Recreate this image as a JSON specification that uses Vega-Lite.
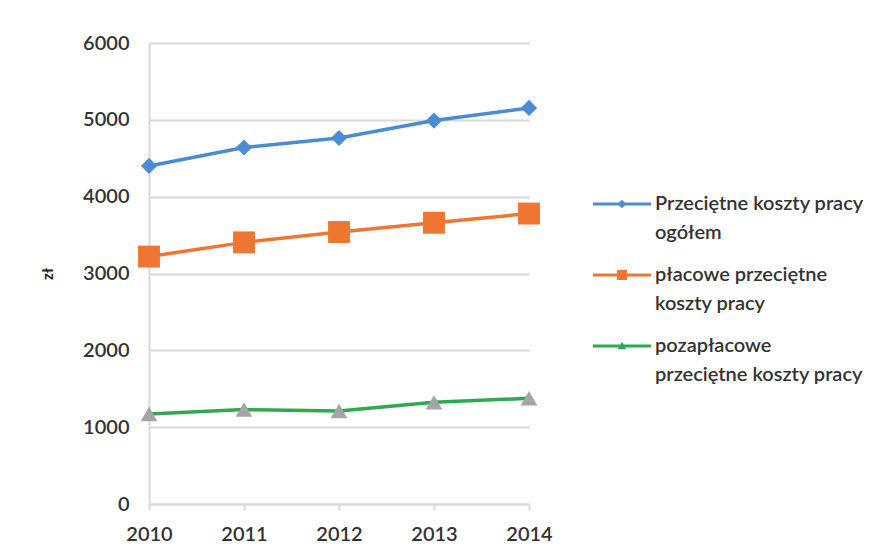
{
  "$schema": "https://vega.github.io/schema/vega-lite/v6.json",
  "width": 380,
  "height": 461,
  "autosize": {"type": "none"},
  "padding": {"left": 149, "top": 43, "right": 359, "bottom": 54},
  "background": "white",
  "config": {
    "font": "Lato",
    "view": {"stroke": null},
    "style": {"guide-label": {"lineHeight": 29}},
    "axis": {
      "labelFont": "Lato",
      "labelFontSize": 20,
      "labelFontWeight": 600,
      "labelColor": "#333333",
      "gridColor": "#d9d9d9",
      "gridWidth": 2,
      "domainColor": "#d9d9d9",
      "domainWidth": 2,
      "tickColor": "#d9d9d9",
      "tickWidth": 2
    }
  },
  "data": {
    "values": [
      {"year": "2010", "series": "A", "value": 4400},
      {"year": "2011", "series": "A", "value": 4640},
      {"year": "2012", "series": "A", "value": 4764},
      {"year": "2013", "series": "A", "value": 4990},
      {"year": "2014", "series": "A", "value": 5155},
      {"year": "2010", "series": "B", "value": 3220},
      {"year": "2011", "series": "B", "value": 3405},
      {"year": "2012", "series": "B", "value": 3540},
      {"year": "2013", "series": "B", "value": 3660},
      {"year": "2014", "series": "B", "value": 3780},
      {"year": "2010", "series": "C", "value": 1170},
      {"year": "2011", "series": "C", "value": 1230},
      {"year": "2012", "series": "C", "value": 1210},
      {"year": "2013", "series": "C", "value": 1325},
      {"year": "2014", "series": "C", "value": 1375}
    ]
  },
  "encoding": {
    "x": {
      "field": "year",
      "type": "ordinal",
      "scale": {"type": "point", "padding": 0},
      "axis": {"title": null, "labelAngle": 0, "grid": false, "tickSize": 6, "labelPadding": 14}
    },
    "y": {
      "field": "value",
      "type": "quantitative",
      "scale": {"domain": [0, 6000], "nice": false},
      "axis": {
        "title": "zł",
        "titleFont": "Lato",
        "titleFontSize": 15,
        "titleFontWeight": "bold",
        "titleColor": "#222222",
        "titlePadding": 27,
        "format": "d",
        "values": [0, 1000, 2000, 3000, 4000, 5000, 6000],
        "labelPadding": 20,
        "ticks": false
      }
    }
  },
  "layer": [
    {
      "mark": {"type": "point", "filled": true, "size": 0},
      "encoding": {
        "color": {
          "field": "series",
          "type": "nominal",
          "scale": {"domain": ["A", "B", "C"], "range": ["#4a8bd3", "#ee7630", "#2fa84f"]},
          "legend": {
            "title": null,
            "orient": "none",
            "legendX": 444,
            "legendY": 132,
            "padding": 0,
            "symbolSize": 3364,
            "symbolOpacity": 1,
            "symbolStrokeWidth": 0,
            "labelFont": "Lato",
            "labelFontSize": 20,
            "labelFontWeight": 600,
            "labelColor": "#333333",
            "labelOffset": 4,
            "labelLimit": 300,
            "labelBaseline": "middle",
            "rowPadding": 3,
            "labelExpr": "datum.label == 'A' ? ['Przeciętne koszty pracy', 'ogółem'] : datum.label == 'B' ? ['płacowe przeciętne', 'koszty pracy'] : [' pozapłacowe', 'przeciętne koszty pracy']",
            "encode": {"labels": {"enter": {"lineHeight": {"value": 29}}, "update": {"lineHeight": {"value": 29}}}}
          }
        },
        "shape": {
          "field": "series",
          "type": "nominal",
          "scale": {
            "domain": ["A", "B", "C"],
            "range": [
              "M-1,-0.05H1V0.05H-1Z M0,-0.15L0.15,0L0,0.15L-0.15,0Z",
              "M-1,-0.05H1V0.05H-1Z M-0.17,-0.17H0.17V0.17H-0.17Z",
              "M-1,-0.05H1V0.05H-1Z M0,-0.15L0.15,0.11L-0.15,0.11Z"
            ]
          },
          "legend": {
            "title": null,
            "orient": "none",
            "legendX": 444,
            "legendY": 132
          }
        }
      }
    },
    {
      "mark": {"type": "line", "strokeWidth": 3.5},
      "encoding": {
        "stroke": {
          "field": "series",
          "type": "nominal",
          "scale": {"domain": ["A", "B", "C"], "range": ["#4a8bd3", "#ee7630", "#2fa84f"]},
          "legend": null
        }
      }
    },
    {
      "transform": [{"filter": "datum.series == 'A'"}],
      "mark": {"type": "point", "shape": "diamond", "filled": true, "opacity": 1, "size": 260, "color": "#4a8bd3"},
      "encoding": {}
    },
    {
      "transform": [{"filter": "datum.series == 'B'"}],
      "mark": {"type": "point", "shape": "square", "filled": true, "opacity": 1, "size": 480, "color": "#ee7630"},
      "encoding": {}
    },
    {
      "transform": [{"filter": "datum.series == 'C'"}],
      "mark": {"type": "point", "shape": "triangle-up", "filled": true, "opacity": 1, "size": 280, "color": "#a5a5a5"},
      "encoding": {}
    }
  ]
}
